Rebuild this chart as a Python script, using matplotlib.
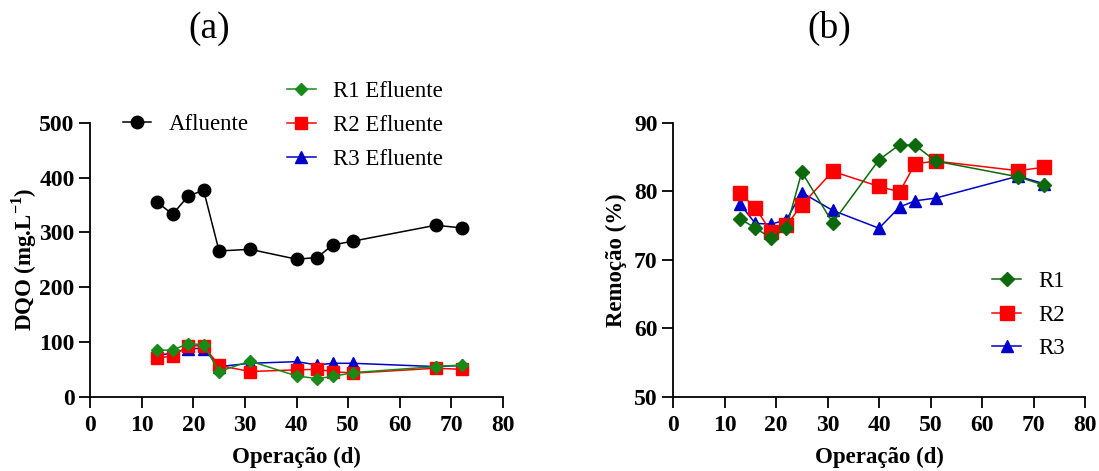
import matplotlib.pyplot as plt
from matplotlib.lines import Line2D

plt.rcParams['font.family'] = ['Liberation Serif', 'DejaVu Serif']
plt.rcParams['mathtext.fontset'] = 'custom'
plt.rcParams['mathtext.rm'] = 'Liberation Serif'
plt.rcParams['mathtext.bf'] = 'Liberation Serif:bold'

# tempo de operação (d)
dias = [13, 16, 19, 22, 25, 31, 40, 44, 47, 51, 67, 72]

# DQO (mg/L)
afluente = [355, 333, 366, 377, 266, 269, 251, 254, 277, 284, 313, 308]
r1_efl = [85, 85, 97, 95, 46, 65, 38, 33, 37, 44, 55, 58]
r2_efl = [71, 74, 93, 93, 57, 46, 49, 50, 46, 43, 52, 50]
r3_efl = [76, 79, 88, 88, 55, 61, 64, 58, 61, 61, 55, 57]

# remoção (%)
rem_r1 = [76.0, 74.6, 73.2, 74.6, 82.8, 75.4, 84.6, 86.8, 86.7, 84.4, 82.1, 80.9]
rem_r2 = [79.7, 77.6, 74.1, 75.0, 78.0, 82.9, 80.7, 79.9, 84.0, 84.4, 83.0, 83.5]
rem_r3 = [78.1, 75.3, 75.2, 75.8, 79.8, 77.2, 74.6, 77.7, 78.6, 79.0, 82.2, 81.1]

green_a = '#178a17'
green_b = '#0c6a0c'
red = '#ff0000'
blue = '#0000c8'

fig = plt.figure(figsize=(10.99, 4.71), dpi=100)
ax1 = fig.add_axes([0.0819, 0.1577, 0.3758, 0.5817])
ax2 = fig.add_axes([0.6124, 0.1577, 0.3749, 0.5817])

lw = 1.1
ax1.plot(dias, afluente, color='black', marker='o', ms=9, lw=lw)
ax1.plot(dias, r3_efl, color=blue, marker='^', ms=8, lw=lw)
ax1.plot(dias, r2_efl, color=red, marker='s', ms=9, lw=lw)
ax1.plot(dias, r1_efl, color=green_a, marker='D', ms=6.5, lw=lw)

ax2.plot(dias, rem_r3, color=blue, marker='^', ms=9, lw=lw)
ax2.plot(dias, rem_r2, color=red, marker='s', ms=9.5, lw=lw)
ax2.plot(dias, rem_r1, color=green_b, marker='D', ms=7, lw=lw)

ax1.set_ylim(0, 500)
ax1.set_yticks(range(0, 501, 100))
ax2.set_ylim(50, 90)
ax2.set_yticks(range(50, 91, 10))

for ax in (ax1, ax2):
    ax.set_xlim(0, 80)
    ax.set_xticks(range(0, 81, 10))
    ax.spines['top'].set_visible(False)
    ax.spines['right'].set_visible(False)
    for s in ('left', 'bottom'):
        ax.spines[s].set_linewidth(1.3)
    ax.tick_params(direction='out', length=8, width=1.3, labelsize=17)
    ax.tick_params(axis='x', pad=5)
    ax.tick_params(axis='y', pad=3)
    for lab in ax.get_xticklabels() + ax.get_yticklabels():
        lab.set_fontweight('bold')
    ax.set_xlabel('Operação (d)', fontsize=16.5, fontweight='bold', labelpad=8)

ax1.set_ylabel('DQO (mg.L$^{\\mathbf{-1}}$)', fontsize=16.5, fontweight='bold', labelpad=0)
ax2.set_ylabel('Remoção (%)', fontsize=16.5, fontweight='bold', labelpad=5)

fig.text(0.19, 0.94, '(a)', fontsize=27, ha='center', va='center')
fig.text(0.755, 0.94, '(b)', fontsize=27, ha='center', va='center')

h_af = Line2D([], [], color='black', marker='o', ms=9, lw=lw)
h1 = Line2D([], [], color=green_a, marker='D', ms=6, lw=lw)
h2 = Line2D([], [], color=red, marker='s', ms=8.5, lw=lw)
h3 = Line2D([], [], color=blue, marker='^', ms=8, lw=lw)

leg_kw = dict(frameon=False, fontsize=16.5, handlelength=1.25, handletextpad=0.75,
              labelspacing=0.55, borderaxespad=0)
leg_b = ax1.legend([h1, h2, h3], ['R1 Efluente', 'R2 Efluente', 'R3 Efluente'],
                   loc='center left', bbox_to_anchor=(0.455, 0.99), **leg_kw)
ax1.add_artist(leg_b)
ax1.legend([h_af], ['Afluente'], loc='center left',
           bbox_to_anchor=(0.057, 0.992), **leg_kw)

g1 = Line2D([], [], color=green_b, marker='D', ms=7, lw=lw)
g2 = Line2D([], [], color=red, marker='s', ms=9.5, lw=lw)
g3 = Line2D([], [], color=blue, marker='^', ms=9, lw=lw)
ax2.legend([g1, g2, g3], ['R1', 'R2', 'R3'], loc='center left',
           bbox_to_anchor=(0.753, 0.298), **leg_kw)

fig.savefig('out.png', dpi=100)
